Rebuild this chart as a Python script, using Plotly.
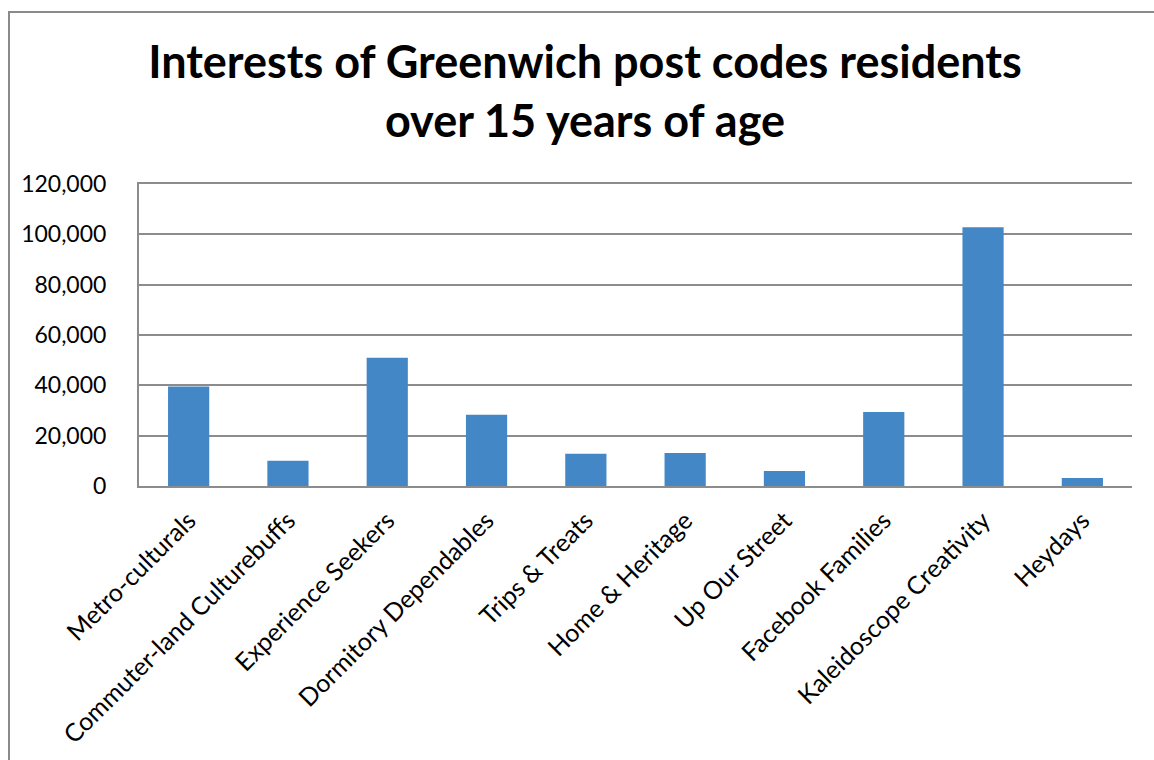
import plotly.graph_objects as go

categories = [
    "Metro-culturals",
    "Commuter-land Culturebuffs",
    "Experience Seekers",
    "Dormitory Dependables",
    "Trips & Treats",
    "Home & Heritage",
    "Up Our Street",
    "Facebook Families",
    "Kaleidoscope Creativity",
    "Heydays",
]
residents = [39500, 10000, 51000, 28300, 12800, 13100, 6000, 29400, 102800, 3200]

y_ticks = [0, 20000, 40000, 60000, 80000, 100000, 120000]
y_tick_labels = ["0", "20,000", "40,000", "60,000", "80,000", "100,000", "120,000"]

title_text = "Interests of Greenwich post codes residents<br>over 15 years of age"

FONT = "Lato"
W, H = 1154, 760
L, R, T, B = 139, 22, 184, 274

fig = go.Figure(
    go.Bar(
        x=categories,
        y=residents,
        marker=dict(color="#4387c6", line=dict(width=0)),
        hoverinfo="x+y",
    )
)

pw, ph = W - L - R, H - T - B

fig.update_layout(
    width=W,
    height=H,
    margin=dict(l=L, r=R, t=T, b=B, autoexpand=False),
    paper_bgcolor="white",
    plot_bgcolor="white",
    bargap=0.585,
    showlegend=False,
    font=dict(family=FONT, color="black", size=23),
    title=dict(
        text=title_text,
        x=585 / W,
        xanchor="center",
        y=1 - 78 / H,
        yanchor="top",
        font=dict(family=FONT, size=45, color="black", weight="bold"),
    ),
    xaxis=dict(
        type="category",
        tickangle=-45,
        showgrid=False,
        showline=True,
        mirror=True,
        linecolor="#8c8c8c",
        linewidth=2,
        ticks="",
        tickfont=dict(family=FONT, size=25, color="black"),
        ticklabelstandoff=8,
    ),
    yaxis=dict(
        range=[0, 120000],
        tickvals=y_ticks,
        ticktext=y_tick_labels,
        showgrid=True,
        gridcolor="#8c8c8c",
        gridwidth=2,
        showline=True,
        linecolor="#8c8c8c",
        linewidth=2,
        zeroline=False,
        ticks="",
        tickfont=dict(family=FONT, size=23, color="black"),
        ticklabelstandoff=26,
    ),
    shapes=[
        dict(
            type="rect",
            xref="paper",
            yref="paper",
            x0=(9 - L) / pw,
            x1=(W + 20 - L) / pw,
            y0=(H - B - (H + 20)) / ph,
            y1=(H - B - 12) / ph,
            line=dict(color="#8a8a8a", width=2),
            fillcolor="rgba(0,0,0,0)",
            layer="below",
        )
    ],
)

fig.write_html("out.html")
